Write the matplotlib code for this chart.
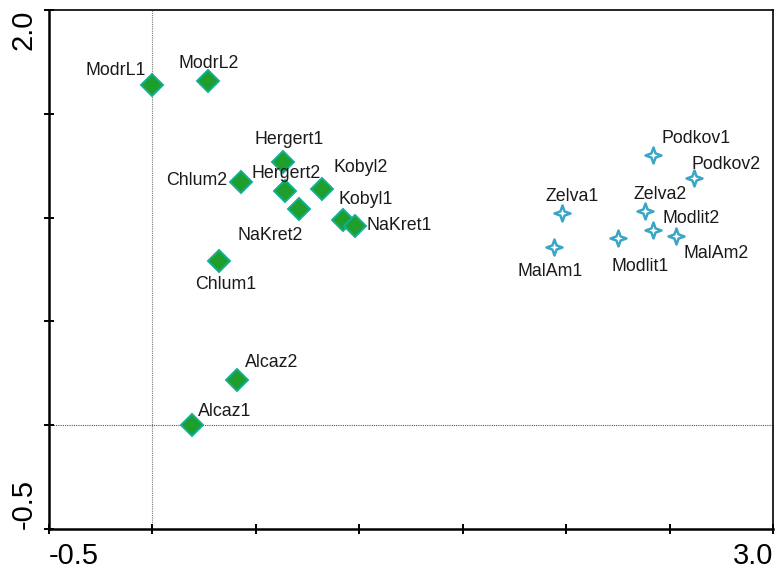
import numpy as np
import matplotlib
matplotlib.use("Agg")
import matplotlib.pyplot as plt
from matplotlib.path import Path
from matplotlib.transforms import ScaledTranslation

plt.rcParams["font.family"] = ["Liberation Sans", "DejaVu Sans"]

# sample scores (axis 1, axis 2)
green_names = ["ModrL1", "ModrL2", "Hergert1", "Chlum2", "Hergert2", "Kobyl2",
               "NaKret2", "Kobyl1", "NaKret1", "Chlum1", "Alcaz2", "Alcaz1"]
green_x = [0.00, 0.27, 0.63, 0.43, 0.64, 0.82, 0.71, 0.92, 0.98, 0.32, 0.41, 0.19]
green_y = [1.64, 1.66, 1.27, 1.17, 1.13, 1.14, 1.04, 0.99, 0.96, 0.79, 0.22, 0.00]

blue_names = ["Podkov1", "Podkov2", "Zelva1", "Zelva2", "Modlit2", "MalAm2",
              "Modlit1", "MalAm1"]
blue_x = [2.42, 2.62, 1.98, 2.38, 2.42, 2.53, 2.25, 1.94]
blue_y = [1.30, 1.19, 1.02, 1.03, 0.94, 0.91, 0.90, 0.86]

# label placement: alignment, dx, dy (pixels, down positive)
label_pos = {
    "ModrL1": ("right", -7, -14), "ModrL2": ("center", 0, -17),
    "Hergert1": ("center", 6, -22), "Chlum2": ("right", -14, -2),
    "Hergert2": ("center", 1, -17), "Kobyl2": ("left", 11, -21),
    "Kobyl1": ("left", -4, -20), "NaKret1": ("left", 11, 0),
    "NaKret2": ("center", -29, 26), "Chlum1": ("center", 7, 23),
    "Alcaz2": ("left", 8, -17), "Alcaz1": ("left", 6, -14),
    "Podkov1": ("left", 8, -17), "Podkov2": ("left", -3, -14),
    "Zelva1": ("center", 10, -17), "Zelva2": ("center", 15, -17),
    "Modlit2": ("left", 9, -12), "MalAm2": ("left", 8, 17),
    "Modlit1": ("center", 22, 28), "MalAm1": ("center", -4, 25),
}

# 4-pointed star marker
a = 0.26
star = Path([(0, 1), (a, a), (1, 0), (a, -a), (0, -1), (-a, -a), (-1, 0), (-a, a), (0, 1)],
            [Path.MOVETO] + [Path.LINETO] * 7 + [Path.CLOSEPOLY])

fig = plt.figure(figsize=(7.76, 5.70), dpi=100)
ax = fig.add_axes([49 / 776, 41 / 570, 724 / 776, 519 / 570])

ax.axvline(0, color="#777777", lw=0.8, ls=(0, (1, 1)), zorder=1)
ax.axhline(0, color="#555555", lw=0.8, ls=(0, (1, 1)), zorder=1)

ax.plot(green_x, green_y, ls="none", marker="D", ms=11, mfc="#1e9e2a",
        mec="#12ae96", mew=1.4, zorder=3)
ax.plot(blue_x, blue_y, ls="none", marker=star, ms=11.5, mfc="white",
        mec="#3aa6c6", mew=1.8, zorder=3)

for names, xs, ys in [(green_names, green_x, green_y), (blue_names, blue_x, blue_y)]:
    for n, x, y in zip(names, xs, ys):
        ha, dx, dy = label_pos[n]
        ax.annotate(n, (x, y), xytext=(dx, -dy), textcoords="offset pixels",
                    ha=ha, va="center", fontsize=12.8, color="#1a1a1a", zorder=4)

ax.set_xlim(-0.5, 3.0)
ax.set_ylim(-0.5, 2.0)
xt = np.arange(-0.5, 3.01, 0.5)
yt = np.arange(-0.5, 2.01, 0.5)
ax.set_xticks(xt)
ax.set_yticks(yt)
ax.set_xticklabels(["-0.5"] + [""] * (len(xt) - 2) + ["3.0"], fontsize=21)
ax.set_yticklabels(["-0.5"] + [""] * (len(yt) - 2) + ["2.0"], fontsize=21,
                   rotation=90, rotation_mode="anchor", va="baseline")
xl = ax.get_xticklabels()
xl[0].set_ha("left")
xl[-1].set_ha("right")
yl = ax.get_yticklabels()
yl[0].set_ha("left")
yl[-1].set_ha("right")
# top label sits a little below the axis end
yl[-1].set_transform(yl[-1].get_transform() + ScaledTranslation(0, -6 / 100, fig.dpi_scale_trans))
ax.tick_params(axis="y", pad=9)
ax.tick_params(direction="inout", length=7, width=1.4, color="black")
ax.tick_params(axis="x", pad=6)

for s in ["left", "bottom"]:
    ax.spines[s].set_linewidth(1.8)
for s in ["top", "right"]:
    ax.spines[s].set_linewidth(1.2)

fig.savefig("out.png", dpi=100)
